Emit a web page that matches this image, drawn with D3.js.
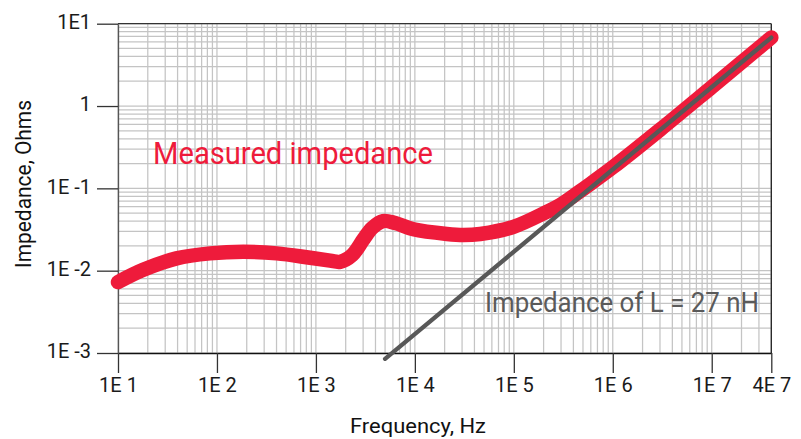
<!DOCTYPE html>
<html>
<head>
<meta charset="utf-8">
<script src="https://cdn.jsdelivr.net/npm/d3@7"></script>
<style>
  html, body { margin: 0; padding: 0; background: #fff; }
  svg { display: block; font-family: Roboto, "Liberation Sans", sans-serif; }
</style>
</head>
<body>
<svg id="chart" width="801" height="439"></svg>
<script>
// ---- data ----
const measuredFreq = [10, 18, 39, 85, 185, 402, 873, 1392, 1757, 2322, 3020, 3700, 4780, 6320, 9680, 21060, 30980, 45710, 99300, 216300, 294400, 548000, 1000000, 3000000, 10000000, 40000000];
const measuredZ    = [0.00727, 0.01026, 0.01411, 0.01622, 0.01698, 0.01622, 0.01435, 0.01327, 0.01283, 0.01545, 0.0240, 0.0330, 0.0401, 0.0379, 0.0318, 0.0279, 0.0271, 0.0279, 0.0341, 0.0520, 0.0627, 0.106, 0.180, 0.515, 1.70, 6.8];
const inductorFreq = [5000, 40000000];
const inductorZ    = [0.00085, 6.79];
const xTickValues = [10, 100, 1000, 10000, 100000, 1000000, 10000000, 40000000];
const xTickLabels = ["1E 1", "1E 2", "1E 3", "1E 4", "1E 5", "1E 6", "1E 7", "4E 7"];
const yTickValues = [10, 1, 0.1, 0.01, 0.001];
const yTickLabels = ["1E1", "1", "1E -1", "1E -2", "1E -3"];
const xTitle = "Frequency, Hz";
const yTitle = "Impedance, Ohms";
const measuredLabel = "Measured impedance";
const inductorLabel = "Impedance of L = 27 nH";

// ---- layout ----
const L = 118, R = 771.3, T = 23.7, B = 353;
const svg = d3.select("#chart");
const x = d3.scaleLog().domain([10, 4e7]).range([L, R]);
const y = d3.scaleLog().domain([1e-3, 10]).range([B, T]);

// grid
const grid = svg.append("g").attr("stroke", "#c4c4c4").attr("stroke-width", 1.25);
grid.selectAll("line.v").data(x.ticks()).join("line")
  .attr("x1", d => x(d)).attr("x2", d => x(d)).attr("y1", T).attr("y2", B);
grid.selectAll("line.h").data(y.ticks()).join("line")
  .attr("x1", L).attr("x2", R).attr("y1", d => y(d)).attr("y2", d => y(d));

// frame
svg.append("line").attr("x1", L).attr("x2", R).attr("y1", T).attr("y2", T).attr("stroke", "#333").attr("stroke-width", 1.3);
svg.append("line").attr("x1", R).attr("x2", R).attr("y1", T).attr("y2", B).attr("stroke", "#222").attr("stroke-width", 1.3);

// axes
const xAxis = svg.append("g").attr("transform", `translate(0,${B})`)
  .call(d3.axisBottom(x).tickValues(xTickValues).tickFormat((d, i) => xTickLabels[i]).tickSize(20).tickSizeOuter(0).tickPadding(5));
xAxis.select(".domain").attr("stroke", "#111").attr("stroke-width", 1.5);
xAxis.selectAll(".tick line").attr("stroke", "#333").attr("stroke-width", 1.3);
xAxis.selectAll(".tick text").attr("font-size", 20).attr("fill", "#1a1a1a").attr("font-family", "Roboto, sans-serif");

const yAxis = svg.append("g").attr("transform", `translate(${L},0)`)
  .call(d3.axisLeft(y).tickValues(yTickValues).tickFormat((d, i) => yTickLabels[i]).tickSize(21).tickSizeOuter(0).tickPadding(6));
yAxis.select(".domain").attr("stroke", "#555").attr("stroke-width", 1.3);
yAxis.selectAll(".tick line").attr("stroke", "#333").attr("stroke-width", 1.3);
yAxis.selectAll(".tick text").attr("font-size", 20).attr("fill", "#1a1a1a").attr("dy", "0.24em").attr("font-family", "Roboto, sans-serif");

// curves
const line = d3.line().x(d => x(d[0])).y(d => y(d[1])).curve(d3.curveCatmullRom.alpha(0.5));
svg.append("path")
  .datum(measuredFreq.map((f, i) => [f, measuredZ[i]]))
  .attr("d", line).attr("fill", "none").attr("stroke", "#EE1B3B").attr("stroke-width", 14.5)
  .attr("stroke-linecap", "round").attr("stroke-linejoin", "round");
svg.append("path")
  .datum(inductorFreq.map((f, i) => [f, inductorZ[i]]))
  .attr("d", d3.line().x(d => x(d[0])).y(d => y(d[1])))
  .attr("fill", "none").attr("stroke", "#585858").attr("stroke-width", 4.3).attr("stroke-linecap", "round");

// labels
svg.append("text").attr("x", 153).attr("y", 164.3).attr("font-size", 32).attr("fill", "#EE1B3B")
  .attr("textLength", 280).attr("lengthAdjust", "spacingAndGlyphs").text(measuredLabel);
svg.append("text").attr("x", 485).attr("y", 311.7).attr("font-size", 27).attr("fill", "#5a5a5a")
  .attr("textLength", 274).attr("lengthAdjust", "spacingAndGlyphs").text(inductorLabel);

svg.append("text").attr("x", 418).attr("y", 433.3).attr("text-anchor", "middle").attr("font-size", 21).attr("fill", "#111")
  .attr("textLength", 136).attr("lengthAdjust", "spacingAndGlyphs").text(xTitle);
svg.append("text").attr("transform", "translate(31,184) rotate(-90)").attr("text-anchor", "middle").attr("font-size", 22).attr("fill", "#111")
  .attr("textLength", 168).attr("lengthAdjust", "spacingAndGlyphs").text(yTitle);
</script>
</body>
</html>
